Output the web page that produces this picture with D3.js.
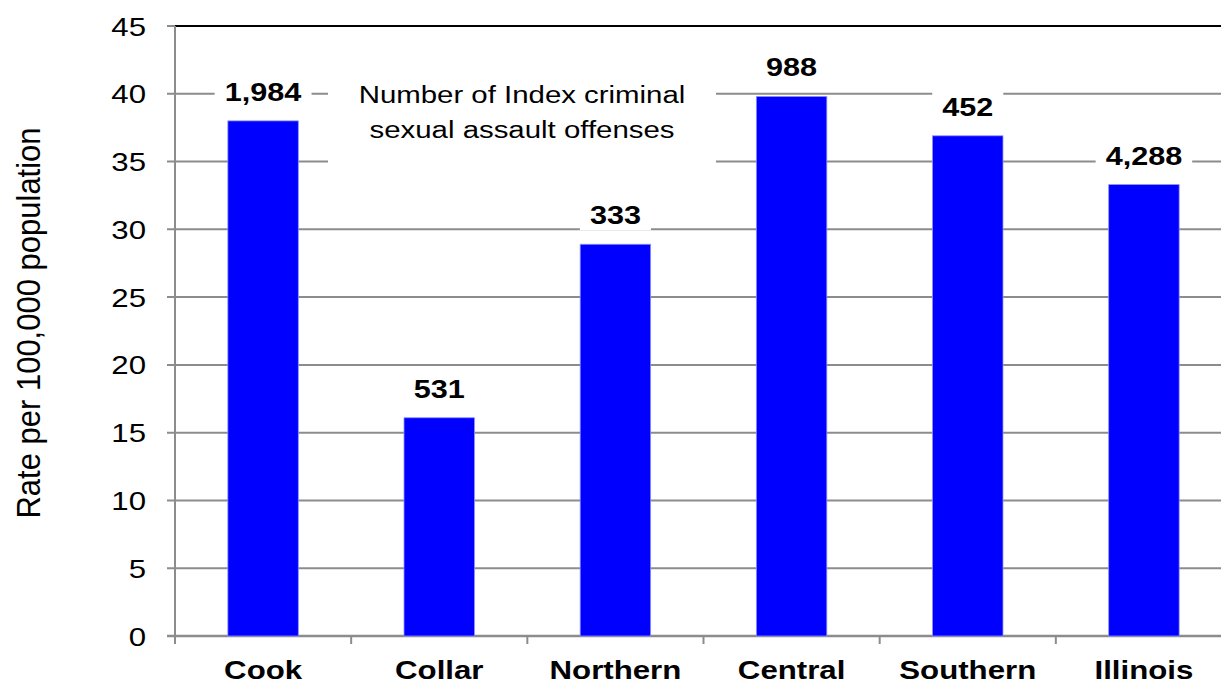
<!DOCTYPE html>
<html>
<head>
<meta charset="utf-8">
<script src="https://cdn.jsdelivr.net/npm/d3@7"></script>
<style>
  html, body { margin: 0; padding: 0; background: #fff; }
  svg { display: block; font-family: "Liberation Sans", Arial, sans-serif; }
</style>
</head>
<body>
<svg id="chart" width="1221" height="688"></svg>
<script>
// Regions and their rate of criminal sexual assault per 100,000 population
const regions = ["Cook", "Collar", "Northern", "Central", "Southern", "Illinois"];
const rates = [38.0, 16.1, 28.9, 39.8, 36.9, 33.3];
// Number of Index criminal sexual assault offenses in each region
const offenses = ["1,984", "531", "333", "988", "452", "4,288"];
const yTicks = [0, 5, 10, 15, 20, 25, 30, 35, 40, 45];
const noteLines = ["Number of Index criminal", "sexual assault offenses"];

const svg = d3.select("#chart");
const stretch = 1.2;            // wide lettering used throughout the chart
const margin = { left: 175, top: 26 };
const plotH = 610;
const plotW = 1057;

const x = d3.scaleBand().domain(regions).range([margin.left, margin.left + plotW]).paddingInner(0.6).paddingOuter(0.3);
const y = d3.scaleLinear().domain([0, 45]).range([margin.top + plotH, margin.top]);

const gridColor = "#8c8c8c";

// horizontal gridlines with small ticks on the left
svg.append("g").selectAll("line").data(yTicks.filter(d => d > 0 && d < 45)).join("line")
  .attr("x1", margin.left - 8).attr("x2", margin.left + plotW)
  .attr("y1", d => y(d)).attr("y2", d => y(d))
  .attr("stroke", gridColor).attr("stroke-width", 2);

// top border
svg.append("line")
  .attr("x1", margin.left - 8).attr("x2", margin.left)
  .attr("y1", y(45)).attr("y2", y(45))
  .attr("stroke", gridColor).attr("stroke-width", 2);
svg.append("line")
  .attr("x1", margin.left).attr("x2", margin.left + plotW)
  .attr("y1", y(45)).attr("y2", y(45))
  .attr("stroke", "#000").attr("stroke-width", 2);

// left axis line
svg.append("line")
  .attr("x1", margin.left).attr("x2", margin.left)
  .attr("y1", y(45)).attr("y2", y(0) + 8)
  .attr("stroke", gridColor).attr("stroke-width", 2);

// bottom axis with category boundary ticks
svg.append("line")
  .attr("x1", margin.left - 8).attr("x2", margin.left + plotW)
  .attr("y1", y(0)).attr("y2", y(0))
  .attr("stroke", gridColor).attr("stroke-width", 2.5);
const step = x.step();
svg.append("g").selectAll("line").data(d3.range(regions.length + 1)).join("line")
  .attr("x1", i => margin.left + i * step).attr("x2", i => margin.left + i * step)
  .attr("y1", y(0)).attr("y2", y(0) + 8)
  .attr("stroke", gridColor).attr("stroke-width", 2);

// white panel behind the note
const noteCx = 522;
svg.append("rect")
  .attr("x", noteCx - 194).attr("y", y(41.5)).attr("width", 388).attr("height", y(33.5) - y(41.5))
  .attr("fill", "#fff");

// bars
svg.append("g").selectAll("rect").data(regions).join("rect")
  .attr("x", d => x(d)).attr("width", x.bandwidth())
  .attr("y", (d, i) => y(rates[i])).attr("height", (d, i) => y(0) - y(rates[i]))
  .attr("fill", "#0000ff").attr("stroke", "#8f8fff").attr("stroke-width", 0.8);

function stretchedText(sel, px, py) {
  return sel.attr("transform", `translate(${px},${py}) scale(${stretch},1)`);
}

// value labels with white boxes
const labels = svg.append("g").selectAll("g").data(regions).join("g");
labels.each(function (d, i) {
  const g = d3.select(this);
  const cx = x(d) + x.bandwidth() / 2;
  const cy = y(rates[i]) - 29;
  const t = g.append("text")
    .attr("text-anchor", "middle")
    .attr("font-size", 25.5).attr("font-weight", "bold").attr("fill", "#000")
    .text(offenses[i]);
  stretchedText(t, cx, cy + 9);
  const w = t.node().getBBox().width * stretch + 20;
  g.insert("rect", "text")
    .attr("x", cx - w / 2).attr("y", cy - 15).attr("width", w).attr("height", 30)
    .attr("fill", "#fff");
});

// note text
noteLines.forEach((line, k) => {
  const t = svg.append("text")
    .attr("text-anchor", "middle").attr("font-size", 24.5).attr("fill", "#000")
    .text(line);
  stretchedText(t, noteCx, 103 + k * 35);
});

// y tick labels
svg.append("g").selectAll("text").data(yTicks).join("text")
  .attr("text-anchor", "end").attr("font-size", 26).attr("fill", "#000")
  .text(d => d)
  .each(function (d) { stretchedText(d3.select(this), 146, y(d) + 9.5); });

// category labels
svg.append("g").selectAll("text").data(regions).join("text")
  .attr("text-anchor", "middle").attr("font-size", 26).attr("font-weight", "bold").attr("fill", "#000")
  .text(d => d)
  .each(function (d) { stretchedText(d3.select(this), x(d) + x.bandwidth() / 2, 679); });

// y axis title
svg.append("text")
  .attr("text-anchor", "middle").attr("font-size", 31).attr("fill", "#000")
  .attr("transform", `translate(40,323) scale(1.1,1) rotate(-90)`)
  .text("Rate per 100,000 population");
</script>
</body>
</html>
